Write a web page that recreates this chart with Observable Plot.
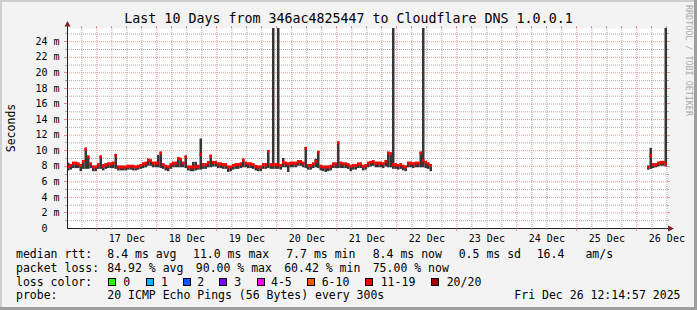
<!DOCTYPE html>
<html><head><meta charset="utf-8">
<script src="https://cdn.jsdelivr.net/npm/d3@7"></script>
<script src="https://cdn.jsdelivr.net/npm/@observablehq/plot@0.6"></script>
<style>
html,body{margin:0;padding:0;background:#f3f3f3;}
#chart svg{display:block;}
</style></head><body><div id="chart"></div>
<script>
// ---- data (ms), one value per hour ----
const seg1Start = "2025-12-16T12:15:00Z";
const median1 = [
7.9,8.1,8.4,8.4,8.3,8.1,8.6,10.2,9.2,8.3,
7.9,7.9,8.2,9.2,8.0,8.2,8.3,8.3,8.4,9.4,
7.9,7.9,7.9,7.9,8.0,8.0,8.0,7.9,8.0,8.1,
8.3,8.4,8.8,8.7,8.4,8.4,8.4,9.7,8.2,8.0,
7.9,8.2,8.4,8.4,9.0,8.9,8.4,9.2,7.9,7.9,
7.9,7.9,8.0,9.5,8.2,8.2,8.5,9.3,8.5,8.5,
8.3,8.3,8.2,8.2,7.9,7.9,8.1,8.2,8.2,8.3,
8.8,8.4,8.3,8.3,8.2,8.0,7.9,7.9,8.2,8.2,
9.9,8.2,8.2,8.2,8.2,8.1,8.5,8.4,8.3,8.4,
8.4,8.4,8.6,8.6,8.4,10.3,8.1,8.1,8.3,8.6,
9.8,8.0,7.9,7.9,7.9,8.0,8.3,8.3,11.0,8.4,
8.3,8.3,8.2,8.0,8.1,8.1,8.3,8.3,8.0,8.1,
8.4,8.5,8.6,8.4,8.4,8.4,8.3,8.6,9.7,9.6,
8.2,8.2,8.1,8.2,8.0,7.9,8.4,8.4,8.3,8.4,
8.4,9.7,8.7,8.5,8.3,8.1
];
const low1 = [
7.4,7.5,7.7,7.7,7.7,7.3,7.6,7.6,7.6,7.7,
7.3,7.3,7.6,7.6,7.4,7.6,7.7,7.7,7.7,7.6,
7.4,7.4,7.4,7.4,7.5,7.5,7.4,7.4,7.5,7.6,
7.7,7.8,8.0,8.0,7.8,7.8,7.8,7.7,7.6,7.4,
7.3,7.6,7.8,7.8,7.8,7.8,7.8,7.7,7.4,7.3,
7.3,7.4,7.5,7.5,7.6,7.6,7.8,7.8,7.9,7.9,
7.7,7.7,7.6,7.6,7.2,7.3,7.5,7.6,7.6,7.7,
7.8,7.8,7.7,7.7,7.6,7.4,7.3,7.3,7.6,7.6,
7.7,7.6,7.6,7.6,7.6,7.5,7.8,7.8,7.2,7.8,
7.8,7.8,8.0,8.0,7.8,7.7,7.5,7.5,7.7,7.8,
7.7,7.4,7.3,7.2,7.3,7.4,7.7,7.7,7.7,7.7,
7.7,7.7,7.6,7.3,7.5,7.5,7.7,7.7,7.4,7.5,
7.8,7.9,8.0,7.8,7.8,7.8,7.7,7.9,7.8,7.8,
7.6,7.6,7.5,7.6,7.4,7.3,7.8,7.8,7.7,7.8,
7.8,7.8,7.8,7.7,7.6,7.3
];
const high1 = [
8.4,8.2,8.5,8.5,8.4,8.2,8.7,10.3,9.3,8.4,
8.0,8.0,8.3,9.3,8.2,8.3,8.4,8.4,8.5,9.5,
8.0,8.0,8.0,8.0,8.1,8.1,8.1,8.0,8.1,8.2,
8.4,8.5,8.9,8.8,8.5,8.5,9.4,9.8,8.3,8.1,
8.0,8.3,8.5,8.5,9.1,9.0,8.5,9.3,8.0,8.0,
8.5,8.5,8.1,11.5,8.3,8.3,8.6,9.4,8.6,8.6,
8.4,8.4,8.3,8.3,8.0,8.0,8.2,8.3,8.3,8.4,
8.9,8.5,8.4,8.4,8.3,8.1,8.0,8.0,8.3,8.3,
10.0,8.3,30,8.3,30,8.2,9.0,8.5,8.4,8.5,
8.5,8.5,8.7,8.7,8.5,10.4,8.2,8.2,8.4,8.9,
9.9,8.1,8.0,8.0,8.0,8.1,8.4,8.4,11.1,8.5,
8.4,8.4,8.3,8.1,8.2,8.2,8.4,8.4,8.1,8.2,
8.5,8.6,8.7,8.5,8.5,8.5,8.4,8.7,9.8,9.7,
30,8.3,8.2,8.3,8.1,8.0,8.5,8.5,8.4,8.5,
8.5,9.8,30,8.6,8.4,8.2
];
const seg2Start = "2025-12-26T04:15:00Z";
const median2 = [7.9,9.4,8.2,8.2,8.4,8.5,8.5,8.3];
const low2    = [7.5,7.6,7.7,7.8,7.9,8.0,8.0,7.9];
const high2   = [8.0,10.3,8.3,8.3,8.5,8.6,8.6,30];

// ---- axes / labels ----
const yTicks = [0,2,4,6,8,10,12,14,16,18,20,22,24];
const yMinor = [1,3,5,7,9,11,13,15,17,19,21,23,25];
const dayDates = ["2025-12-17","2025-12-18","2025-12-19","2025-12-20","2025-12-21","2025-12-22","2025-12-23","2025-12-24","2025-12-25","2025-12-26"];
const dayLabels = ["17 Dec","18 Dec","19 Dec","20 Dec","21 Dec","22 Dec","23 Dec","24 Dec","25 Dec","26 Dec"];
const titleText = "Last 10 Days from 346ac4825447 to Cloudflare DNS 1.0.0.1";
const rttItems = ["median rtt:","8.4 ms avg","11.0 ms max","7.7 ms min","8.4 ms now","0.5 ms sd","16.4","am/s"];
const lossItems = ["packet loss:","84.92 % avg","90.00 % max","60.42 % min","75.00 % now"];
const lossLabels = ["0","1","2","3","4-5","6-10","11-19","20/20"];
const lossColors = ["#26ff00","#00b8ff","#0059ff","#7e00ff","#ff00ff","#ff5500","#ff0000","#a10000"];
const probeItems = ["probe:","20 ICMP Echo Pings (56 Bytes) every 300s"];
const stampText = "Fri Dec 26 12:14:57 2025";

const HOUR = 3600e3;
const T0 = new Date("2025-12-16T12:15:00Z");
const T1 = new Date("2025-12-26T12:15:00Z");
function rows(start, med, lo, hi) {
  const s = new Date(start).getTime();
  return med.map((m, i) => ({t: new Date(s + i*HOUR), t2: new Date(s + (i+1)*HOUR), med: m, lo: lo[i], hi: hi[i]}));
}
const data = rows(seg1Start, median1, low1, high1).concat(rows(seg2Start, median2, low2, high2));

const majorX = dayDates.map(d => new Date(d + "T00:00:00Z"));
const noonX = dayDates.map(d => new Date(d + "T12:00:00Z"));
const minorX = d3.utcHour.every(6).range(T0, T1).filter(d => d.getUTCHours() !== 0);

const GRID = "rgba(143,143,143,0.75)";
const MGRID = "rgba(222,79,79,0.6)";

const chart = Plot.plot({
  width: 697, height: 310,
  marginLeft: 67, marginRight: 30, marginTop: 28, marginBottom: 82,
  x: {type: "utc", domain: [T0, T1], axis: null},
  y: {domain: [0, 25.7], axis: null},
  style: {background: "transparent", fontFamily: "'DejaVu Sans Mono', monospace", fontSize: "10px", color: "#000", overflow: "visible"},
  marks: [
    Plot.frame({fill: "#ffffff", stroke: "none"}),
    Plot.ruleY(yMinor, {stroke: GRID, strokeDasharray: "1,1"}),
    Plot.ruleX(minorX, {stroke: GRID, strokeDasharray: "1,1"}),
    Plot.ruleY(yTicks.filter(d => d > 0), {stroke: MGRID, strokeDasharray: "1,1"}),
    Plot.ruleX(majorX, {stroke: MGRID, strokeDasharray: "1,1"}),
    Plot.rect(data, {x1: "t", x2: "t2", y1: "lo", y2: "hi", fill: "#363636", clip: true}),
    Plot.ruleY(data, {x1: "t", x2: "t2", y: "med", stroke: "#ff0000", strokeWidth: 3}),
    Plot.ruleY([0], {x1: T0, x2: new Date(T1.getTime() + 1.3*HOUR), stroke: "#1f1f1f"}),
    Plot.ruleX([T0], {y1: 0, y2: 26.1, stroke: "#1f1f1f"}),
    Plot.text(yTicks, {y: d => d, text: d => String(d), frameAnchor: "left", dx: -20, textAnchor: "end", lineAnchor: "middle", fontSize: 10}),
    Plot.text(yTicks.filter(d => d > 0), {y: d => d, text: () => "m", frameAnchor: "left", dx: -14, textAnchor: "start", lineAnchor: "middle", fontSize: 10}),
    Plot.text(noonX, {x: d => d, text: (d, i) => dayLabels[i], frameAnchor: "bottom", dy: 10.3, lineAnchor: "middle", fontSize: 10})
  ]
});
document.getElementById("chart").appendChild(chart);

const sx = chart.scale("x"), sy = chart.scale("y");
const svg = d3.select(chart);
const g = svg.append("g");
// small ticks outside the canvas
minorX.forEach(d => { const x = Math.round(sx.apply(d)) + 0.5;
  g.append("line").attr("x1", x).attr("x2", x).attr("y1", 228).attr("y2", 230).attr("stroke", GRID);
  g.append("line").attr("x1", x).attr("x2", x).attr("y1", 26).attr("y2", 28).attr("stroke", GRID); });
majorX.forEach(d => { const x = Math.round(sx.apply(d)) + 0.5;
  g.append("line").attr("x1", x).attr("x2", x).attr("y1", 228).attr("y2", 231).attr("stroke", MGRID);
  g.append("line").attr("x1", x).attr("x2", x).attr("y1", 26).attr("y2", 28).attr("stroke", MGRID); });
yMinor.forEach(v => { const y = Math.round(sy.apply(v)) + 0.5;
  g.append("line").attr("x1", 65).attr("x2", 67).attr("y1", y).attr("y2", y).attr("stroke", GRID);
  g.append("line").attr("x1", 667).attr("x2", 669).attr("y1", y).attr("y2", y).attr("stroke", GRID); });
yTicks.filter(d => d > 0).forEach(v => { const y = Math.round(sy.apply(v)) + 0.5;
  g.append("line").attr("x1", 64).attr("x2", 67).attr("y1", y).attr("y2", y).attr("stroke", MGRID);
  g.append("line").attr("x1", 667).attr("x2", 670).attr("y1", y).attr("y2", y).attr("stroke", MGRID); });
// arrows
g.append("polygon").attr("points", "64.5,26.5 70.5,26.5 67.5,21").attr("fill", "#801f1f");
g.append("polygon").attr("points", "668,225.5 668,231.5 674,228.5").attr("fill", "#801f1f");

const font = "'DejaVu Sans Mono', monospace";
function txt(s, x, y, size, anchor, fill) {
  return g.append("text").attr("x", x).attr("y", y).attr("font-size", size).attr("font-family", font)
    .attr("text-anchor", anchor || "start").attr("fill", fill || "#000").text(s);
}
txt(titleText, 348.5, 23, 13.3, "middle");
g.append("text").attr("transform", "translate(14.5,128) rotate(-90)").attr("text-anchor", "middle")
  .attr("font-size", 11.5).attr("font-family", font).text("Seconds");
g.append("text").attr("transform", "translate(685.5,5) rotate(90)").attr("text-anchor", "start")
  .attr("font-size", 8.4).attr("font-family", font).attr("fill", "#aaaaaa").text("RRDTOOL / TOBI OETIKER");

// legend
const rttX = [16, 107.3, 193, 286.2, 372.7, 458.7, 536.7, 585.4];
rttItems.forEach((s, i) => txt(s, rttX[i], 258.3, 11.5));
const lossX = [16, 107.3, 195.8, 284.2, 372.7];
lossItems.forEach((s, i) => txt(s, lossX[i], 272, 11.5));
txt("loss color:", 16, 285.7, 11.5);
const boxX = [108, 145.7, 182.7, 219, 256.7, 307.3, 365, 431];
const labX = [123.3, 161, 197.3, 234.3, 271, 321.7, 380.7, 446.7];
lossLabels.forEach((s, i) => {
  g.append("rect").attr("x", Math.round(boxX[i]) + 0.5).attr("y", 278.5).attr("width", 7).attr("height", 7)
    .attr("fill", lossColors[i]).attr("stroke", "#000");
  txt(s, labX[i], 285.7, 11.5);
});
txt(probeItems[0], 16, 299.3, 11.5);
txt(probeItems[1], 107.3, 299.3, 11.5);
txt(stampText, 680.5, 299.3, 11.5, "end");

// frame shading
g.append("rect").attr("x", 0).attr("y", 0).attr("width", 697).attr("height", 2).attr("fill", "#cfcfcf");
g.append("rect").attr("x", 0).attr("y", 0).attr("width", 2).attr("height", 310).attr("fill", "#cfcfcf");
g.append("rect").attr("x", 694).attr("y", 0).attr("width", 3).attr("height", 310).attr("fill", "#9e9e9e");
g.append("rect").attr("x", 0).attr("y", 307).attr("width", 697).attr("height", 3).attr("fill", "#9e9e9e");
</script></body></html>
